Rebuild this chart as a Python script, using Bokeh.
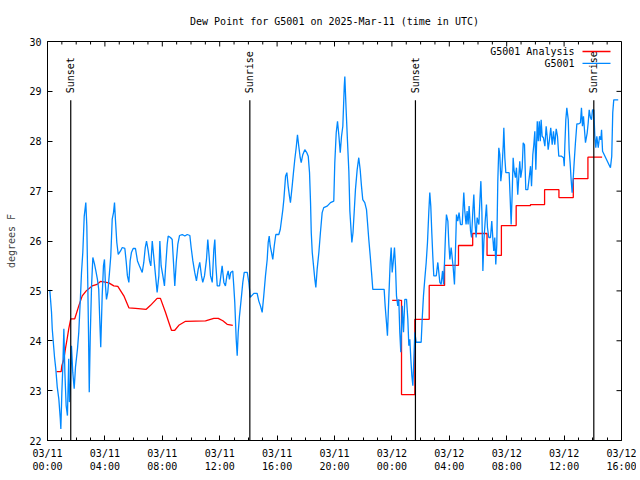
from math import pi
from bokeh.plotting import figure
from bokeh.models import FixedTicker, LinearAxis, Range1d
from bokeh.embed import file_html
from bokeh.resources import INLINE
from bokeh.core.properties import value

# ---------------- data (hours after 2025-03-11 00:00 UTC) ----------------
obs_hours = [0.16, 0.28, 0.33, 0.49, 0.58, 0.68, 0.79, 0.89, 0.93, 1.00, 1.07, 1.14, 1.21, 1.30, 1.39,
             1.48, 1.53, 1.60, 1.67, 1.76, 1.86, 1.95, 2.09, 2.18, 2.30, 2.37, 2.46, 2.56, 2.67, 2.74,
             2.81, 2.86, 2.91, 2.98, 3.07, 3.16, 3.28, 3.39, 3.48, 3.57, 3.64, 3.71, 3.81, 3.90, 3.97,
             4.04, 4.11, 4.20, 4.32, 4.41, 4.51, 4.60, 4.67, 4.74, 4.83, 4.93, 5.09, 5.21, 5.39, 5.48,
             5.57, 5.67, 5.76, 5.85, 5.97, 6.13, 6.27, 6.41, 6.60, 6.71, 6.81, 6.90, 7.02, 7.11, 7.20,
             7.30, 7.41, 7.53, 7.64, 7.76, 7.83, 7.92, 8.04, 8.15, 8.22, 8.34, 8.41, 8.57, 8.69, 8.78,
             8.87, 8.97, 9.08, 9.20, 9.39, 9.57, 9.74, 9.92, 10.01, 10.13, 10.26, 10.38, 10.50, 10.61,
             10.73, 10.82, 10.94, 11.08, 11.17, 11.27, 11.36, 11.48, 11.59, 11.66, 11.73, 11.83, 11.99,
             12.08, 12.17, 12.29, 12.40, 12.50, 12.59, 12.68, 12.77, 12.91, 12.98, 13.05, 13.15, 13.22,
             13.29, 13.38, 13.52, 13.61, 13.71, 13.92, 14.03, 14.13, 14.22, 14.38, 14.61, 14.72, 14.84,
             14.96, 15.07, 15.19, 15.31, 15.38, 15.45, 15.52, 15.61, 15.70, 15.80, 15.91, 16.12, 16.22,
             16.31, 16.40, 16.47, 16.59, 16.68, 16.77, 16.86, 16.93, 17.05, 17.14, 17.23, 17.33, 17.42,
             17.51, 17.61, 17.68, 17.79, 17.93, 18.07, 18.17, 18.26, 18.33, 18.38, 18.45, 18.54, 18.63,
             18.70, 18.79, 18.91, 19.02, 19.14, 19.25, 19.49, 19.72, 19.95, 20.02, 20.12, 20.21, 20.30,
             20.40, 20.49, 20.58, 20.68, 20.72, 20.81, 20.91, 21.00, 21.07, 21.21, 21.29, 21.37, 21.46,
             21.58, 21.69, 21.79, 21.88, 21.97, 22.11, 22.23, 22.30, 22.39, 22.49, 22.58, 22.67, 23.46,
             23.53, 23.62, 23.69, 23.78, 23.88, 23.95, 24.02, 24.09, 24.18, 24.25, 24.32, 24.41, 24.48,
             24.55, 24.62, 24.72, 24.81, 24.90, 25.02, 25.11, 25.18, 25.25, 25.32, 25.39, 25.46, 25.53,
             25.60, 25.69, 26.04, 26.11, 26.20, 26.29, 26.39, 26.48, 26.57, 26.64, 26.71, 26.78, 26.85,
             26.92, 27.09, 27.20, 27.27, 27.34, 27.43, 27.53, 27.60, 27.67, 27.74, 27.80, 27.90, 27.97,
             28.04, 28.13, 28.20, 28.27, 28.36, 28.43, 28.50, 28.59, 28.68, 28.78, 28.90, 29.01, 29.08,
             29.17, 29.24, 29.31, 29.38, 29.48, 29.55, 29.64, 29.71, 29.78, 29.87, 29.94, 30.06, 30.13,
             30.20, 30.27, 30.34, 30.41, 30.50, 30.59, 30.66, 30.75, 30.87, 30.96, 31.03, 31.10, 31.17,
             31.24, 31.31, 31.38, 31.45, 31.52, 31.59, 31.66, 31.76, 31.80, 31.87, 31.94, 32.17, 32.24,
             32.31, 32.38, 32.45, 32.52, 32.61, 32.68, 32.77, 32.84, 32.91, 32.98, 33.08, 33.15, 33.24,
             33.33, 33.47, 33.57, 33.66, 33.73, 33.82, 33.89, 33.96, 34.03, 34.13, 34.20, 34.27, 34.34,
             34.40, 34.47, 34.56, 34.66, 34.75, 34.82, 34.89, 34.98, 35.07, 35.17, 35.26, 35.35, 35.45,
             35.54, 35.63, 35.82, 35.96, 36.01, 36.05, 36.12, 36.19, 36.29, 36.35, 36.42, 36.49, 36.56,
             36.63, 36.70, 36.79, 36.89, 37.03, 37.14, 37.21, 37.28, 37.35, 37.42, 37.49, 37.61, 37.68,
             37.75, 37.84, 37.91, 37.98, 38.07, 38.14, 38.21, 38.28, 38.38, 38.47, 38.56, 38.61, 38.68,
             39.23, 39.32, 39.39, 39.46, 39.77]
obs_dewpt = [25.02, 24.57, 24.24, 23.67, 23.43, 23.07, 22.83, 22.44, 22.23, 22.96, 23.50, 24.24, 23.37, 22.70, 22.50,
             23.64, 22.77, 23.10, 23.90, 23.37, 23.04, 23.47, 23.84, 24.17, 24.90, 25.37, 25.77, 26.50, 26.77, 26.30,
             25.10, 24.10, 22.97, 24.10, 25.10, 25.67, 25.53, 25.37, 25.23, 25.03, 24.43, 23.87, 24.90, 25.50, 25.63,
             25.10, 24.83, 24.97, 25.37, 25.70, 26.44, 26.57, 26.77, 26.40, 25.97, 25.73, 25.80, 25.87, 25.85, 25.60,
             25.30, 25.17, 25.60, 25.77, 25.85, 25.85, 25.60, 25.50, 25.37, 25.57, 25.86, 26.00, 25.80, 25.60, 25.50,
             26.00, 25.67, 25.30, 24.97, 25.30, 26.00, 25.50, 25.30, 25.10, 25.43, 25.93, 26.10, 26.07, 26.03, 25.57,
             25.10, 25.57, 25.93, 26.11, 26.13, 26.10, 26.13, 26.11, 25.87, 25.60, 25.37, 25.20, 25.43, 25.57,
             25.30, 25.17, 25.30, 25.63, 26.03, 25.67, 25.30, 25.17, 25.83, 26.03, 25.53, 25.10, 25.10,
             25.30, 25.50, 25.17, 25.10, 25.30, 25.40, 25.23, 25.37, 25.40, 25.10, 24.77, 24.03, 23.70,
             24.17, 24.50, 24.90, 25.17, 25.37, 25.37, 25.17, 24.87, 24.90, 24.95, 24.95, 24.80, 24.70,
             24.57, 24.90, 25.30, 25.63, 25.97, 26.10, 25.90, 25.77, 25.63, 25.90, 26.13, 26.13, 26.23,
             26.43, 26.63, 26.83, 27.30, 27.37, 27.10, 26.90, 26.77, 27.10, 27.37, 27.63, 27.87, 28.13,
             27.90, 27.67, 27.57, 27.73, 27.83, 27.77, 27.70, 27.37, 26.77, 26.17, 25.77, 25.50, 25.23,
             25.07, 25.43, 25.77, 26.17, 26.57, 26.67, 26.70, 26.77, 26.80, 27.57, 28.17, 28.40, 28.13,
             27.77, 28.10, 28.30, 29.10, 29.30, 28.63, 27.97, 27.40, 26.60, 25.97, 26.17, 26.57, 27.03,
             27.43, 27.67, 27.43, 27.10, 26.83, 26.77, 26.63, 26.37, 26.03, 25.70, 25.37, 25.03, 25.03,
             24.70, 24.37, 24.10, 24.83, 25.57, 25.87, 25.37, 25.57, 25.87, 25.50, 24.90, 24.70, 24.83,
             24.17, 23.77, 24.70, 24.17, 24.83, 24.83, 24.43, 23.90, 24.03, 23.63, 23.30, 23.10, 23.63,
             24.17, 23.97, 23.97, 24.43, 24.90, 25.23, 25.57, 25.97, 26.57, 26.97, 26.70, 26.17, 25.70,
             25.30, 25.30, 25.57, 25.37, 25.17, 25.13, 25.40, 25.13, 25.60, 26.17, 26.53, 26.40, 25.93,
             25.63, 25.87, 25.67, 25.47, 25.13, 25.80, 26.53, 26.40, 26.57, 26.33, 26.33, 26.97, 26.60,
             26.33, 26.60, 26.33, 26.70, 26.20, 26.07, 26.60, 26.93, 26.40, 26.07, 26.47, 26.33, 26.80,
             27.20, 26.60, 25.40, 26.00, 26.40, 26.73, 26.27, 26.07, 26.07, 26.40, 26.07, 25.80, 26.07,
             25.53, 25.93, 27.20, 27.87, 27.73, 27.20, 27.40, 27.93, 28.27, 27.67, 27.37, 27.37, 26.87,
             26.33, 26.93, 27.67, 27.40, 27.27, 27.47, 26.93, 27.27, 27.60, 27.27, 27.47, 27.97, 27.93,
             27.03, 27.03, 27.27, 27.50, 27.10, 27.73, 27.93, 28.20, 27.43, 28.40, 28.00, 28.40, 28.00,
             28.43, 28.10, 28.07, 27.90, 28.30, 28.10, 27.83, 28.03, 28.27, 27.93, 28.20, 27.93, 28.25,
             28.10, 27.70, 27.70, 27.67, 27.50, 27.90, 28.43, 28.67, 28.43, 27.83, 27.57, 27.23, 26.97,
             27.23, 27.57, 27.97, 28.35, 28.35, 28.37, 28.67, 28.30, 28.50, 28.23, 27.97, 28.17, 28.37,
             28.63, 28.47, 28.43, 28.63, 28.63, 28.10, 27.87, 28.10, 27.87, 28.10, 28.03, 28.23, 27.80,
             27.47, 27.70, 28.57, 28.83, 28.83]

# analysis, first part (smooth line)
ana_line_hours = [0.63, 0.95, 1.00, 1.14, 1.25, 1.37, 1.48, 1.62, 1.90, 2.18, 2.42, 2.70, 3.11, 3.46, 3.69,
                  3.92, 4.27, 4.62, 4.90, 5.32, 5.67, 6.13, 6.88, 7.18, 7.64, 7.87, 8.22, 8.45, 8.64, 8.87,
                  9.15, 9.62, 11.01, 11.59, 11.90, 12.22, 12.52, 12.91]
ana_line_dewpt = [23.38, 23.38, 23.50, 23.63, 23.84, 24.04, 24.24, 24.44, 24.44, 24.70, 24.90, 25.00, 25.10, 25.13, 25.19,
                  25.18, 25.16, 25.10, 25.09, 24.90, 24.66, 24.65, 24.63, 24.71, 24.85, 24.85, 24.57, 24.37, 24.21, 24.21,
                  24.31, 24.39, 24.40, 24.45, 24.45, 24.40, 24.33, 24.31]
# analysis, second part (hourly steps)
ana_step_hours = [24.02, 24.67, 25.60, 26.60, 27.67, 28.64, 29.63, 30.63, 31.63, 32.66, 33.66, 34.64,
                  35.64, 36.64, 37.66, 38.65]
ana_step_dewpt = [24.81, 22.92, 24.43, 25.11, 25.51, 25.91, 26.15, 25.71, 26.31, 26.71, 26.73, 27.03,
                  26.87, 27.25, 27.68, 27.68]

sun_hours = [1.62, 14.10, 25.64, 38.07]
sun_labels = ["Sunset", "Sunrise", "Sunset", "Sunrise"]

x_ticks = [0, 4, 8, 12, 16, 20, 24, 28, 32, 36, 40]
x_minor = list(range(0, 41))
x_tick_labels = ["03/11\n00:00", "03/11\n04:00", "03/11\n08:00", "03/11\n12:00", "03/11\n16:00",
                 "03/11\n20:00", "03/12\n00:00", "03/12\n04:00", "03/12\n08:00", "03/12\n12:00",
                 "03/12\n16:00"]
y_ticks = [22, 23, 24, 25, 26, 27, 28, 29, 30]

TITLE = "Dew Point for G5001 on 2025-Mar-11 (time in UTC)"
FONT = "DejaVu Sans Mono"
FS = "10px"
BLUE = "#0088ff"
RED = "#ff0000"

X0, X1, Y0, Y1 = 0, 40, 22, 30
FRAME_W, FRAME_H = 574, 400
PX_Y = (Y1 - Y0) / FRAME_H   # data units per pixel, vertical
PX_X = (X1 - X0) / FRAME_W   # data units per pixel, horizontal

# ---------------- figure ----------------
p = figure(width=636, height=476, x_range=Range1d(X0, X1), y_range=Range1d(Y0, Y1),
           x_axis_type=None, y_axis_type=None, output_backend="svg", toolbar_location=None,
           min_border_left=47, min_border_right=15, min_border_top=40, min_border_bottom=36)
p.grid.visible = False
p.outline_line_color = "black"
p.outline_line_width = 1
p.background_fill_color = "white"
p.border_fill_color = "white"

p.title.text = TITLE
p.title.align = "center"
p.title.vertical_align = "middle"
p.title.text_font = FONT
p.title.text_font_size = FS
p.title.text_font_style = "normal"
p.title.text_color = "black"
p.title.standoff = 28

xticker = FixedTicker(ticks=x_ticks, minor_ticks=x_minor)
yticker = FixedTicker(ticks=y_ticks, minor_ticks=[])


def style(ax):
    ax.axis_line_color = "black"
    ax.major_tick_line_color = "black"
    ax.minor_tick_line_color = "black"
    ax.major_tick_in = 5
    ax.major_tick_out = 0
    ax.minor_tick_in = 3
    ax.minor_tick_out = 0
    ax.major_label_text_font = FONT
    ax.major_label_text_font_size = FS
    ax.major_label_text_color = "black"
    ax.major_label_standoff = 6


xb = LinearAxis(ticker=xticker, major_label_overrides=dict(zip(x_ticks, x_tick_labels)))
style(xb)
xb.major_label_standoff = 7
p.add_layout(xb, "below")

yl = LinearAxis(ticker=yticker, axis_label="degrees F")
style(yl)
yl.axis_label_text_font = FONT
yl.axis_label_text_font_size = FS
yl.axis_label_text_font_style = "normal"
yl.axis_label_standoff = 9
p.add_layout(yl, "left")

# mirrored (gnuplot-style) tick marks on the top and right borders
minor_only = [t for t in x_minor if t not in x_ticks]
p.segment(x0=x_ticks, y0=[Y1] * len(x_ticks), x1=x_ticks, y1=[Y1 - 5 * PX_Y] * len(x_ticks),
          line_color="black", line_width=1)
p.segment(x0=minor_only, y0=[Y1] * len(minor_only), x1=minor_only,
          y1=[Y1 - 3 * PX_Y] * len(minor_only), line_color="black", line_width=1)
p.segment(x0=[X1] * len(y_ticks), y0=y_ticks, x1=[X1 - 5 * PX_X] * len(y_ticks), y1=y_ticks,
          line_color="black", line_width=1)

# ---------------- series ----------------
p.line(ana_line_hours, ana_line_dewpt, line_color=RED, line_width=1.3)
p.step(ana_step_hours, ana_step_dewpt, mode="after", line_color=RED, line_width=1.3)
p.line(obs_hours, obs_dewpt, line_color=BLUE, line_width=1.3)

# sun events
line_top = Y1 - 59 * PX_Y
p.segment(x0=sun_hours, y0=[Y0] * len(sun_hours), x1=sun_hours, y1=[line_top] * len(sun_hours),
          line_color="black", line_width=1.2)
p.text(x=sun_hours, y=[line_top + 7 * PX_Y] * len(sun_hours), text=sun_labels, angle=pi / 2,
       text_align="left", text_baseline="middle", text_font=value(FONT), text_font_size=FS,
       text_color="black")

# legend (gnuplot style: text right-aligned, sample to the right)
leg_names = ["G5001 Analysis", "G5001"]
leg_colors = [RED, BLUE]
leg_y = [Y1 - 10 * PX_Y, Y1 - 22 * PX_Y]
p.text(x=[X1 - 47 * PX_X] * 2, y=leg_y, text=leg_names, text_align="right", text_baseline="middle",
       text_font=value(FONT), text_font_size=FS, text_color="black")
p.segment(x0=[X1 - 39 * PX_X] * 2, y0=leg_y, x1=[X1 - 11 * PX_X] * 2, y1=leg_y,
          line_color=leg_colors, line_width=1.3)

open("out.html", "w").write(file_html(p, INLINE))
